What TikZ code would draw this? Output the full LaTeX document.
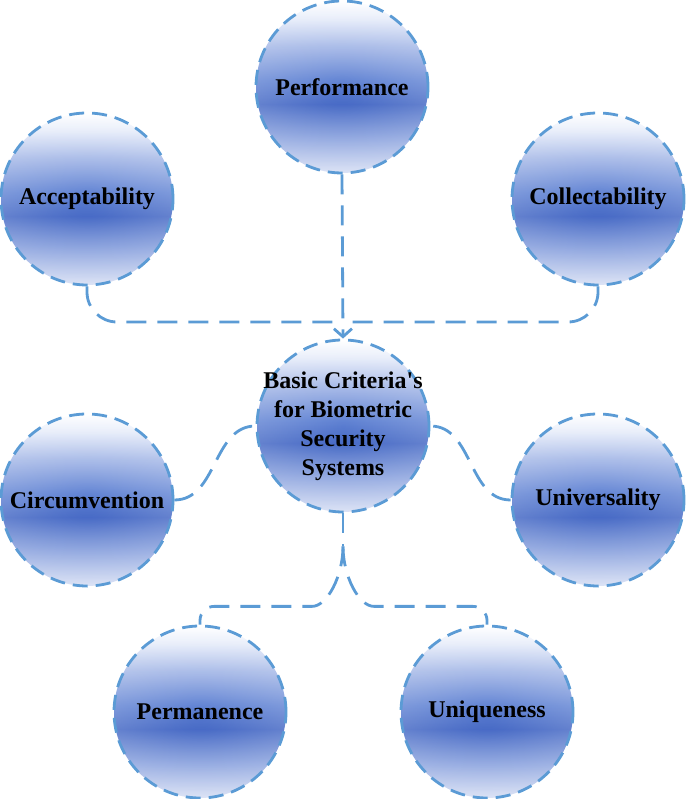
\documentclass[tikz,border=0pt]{standalone}
\usepackage{fontspec}
\setmainfont{Liberation Serif}
\usepackage{tikz}
\usetikzlibrary{arrows.meta,fadings}
\usetikzlibrary{shapes,positioning}
\definecolor{linkblue}{RGB}{91,155,213}
\definecolor{ballbot}{RGB}{214,222,244}
\definecolor{balllow}{RGB}{138,162,222}
\definecolor{balldark}{RGB}{66,102,196}
\definecolor{ballmid}{RGB}{98,132,212}
\definecolor{ballhigh}{RGB}{165,184,231}
\definecolor{ballpale}{RGB}{230,236,250}
\pgfdeclareverticalshading{sphereband}{100bp}{color(0bp)=(ballbot); color(25bp)=(ballbot);
  color(35bp)=(balllow); color(45bp)=(balldark); color(52bp)=(ballmid);
  color(62bp)=(ballhigh); color(70bp)=(ballpale); color(75bp)=(white); color(100bp)=(white)}
\tikzfading[name=rimfade,inner color=transparent!100,outer color=transparent!82]
\tikzset{x=1pt,y=1pt,
  ball/.style={circle,minimum size=172pt,inner sep=0pt,shading=sphereband,
    path picture={\fill[white,path fading=rimfade]
      (path picture bounding box.south west) rectangle (path picture bounding box.north east);},
    draw=linkblue,line width=2.8pt,dash pattern=on 15pt off 8pt,
    font=\bfseries\fontsize{24}{29}\selectfont,align=center},
  link/.style={draw=linkblue,line width=2.8pt,dash pattern=on 20pt off 11pt}}

\begin{document}
\begin{tikzpicture}
  \useasboundingbox (0,0) rectangle (685,799);
  \node[ball] (perf) at (342,712) {Performance};
  \node[ball] (acc) at (87,600) {Acceptability};
  \node[ball] (coll) at (598,600) {Collectability};
  \node[ball,inner sep=-20pt] (crit) at (343,373)
    {Basic Criteria\textquotesingle s\\for Biometric\\Security\\Systems};
  \node[ball] (circ) at (87,299) {Circumvention};
  \node[ball] (univ) at (598,299) {Universality};
  \node[ball] (perm) at (200,87) {Permanence};
  \node[ball] (uniq) at (487,87) {Uniqueness};

  % top three feed into the centre
  \coordinate (join) at (343,477);
  \draw[link,rounded corners=30pt] (acc.south) |- (join);
  \draw[link,rounded corners=30pt] (coll.south) |- (join);
  \draw[link,-{Straight Barb[length=8pt,width=18pt]}] (perf.south) -- (crit.north);

  \draw[link] (circ.east) to[out=0,in=180] (crit.west);
  \draw[link] (univ.west) to[out=180,in=0] (crit.east);

  % fork below the centre
  \draw[link] (crit.south) -- ++(0,-33) coordinate (fork);
  \draw[link,rounded corners=14pt] (fork) to[out=-90,in=0] ++(-45,-60) -| (perm.north);
  \draw[link,rounded corners=14pt] (fork) to[out=-90,in=180] ++(45,-60) -| (uniq.north);
\end{tikzpicture}
\end{document}
